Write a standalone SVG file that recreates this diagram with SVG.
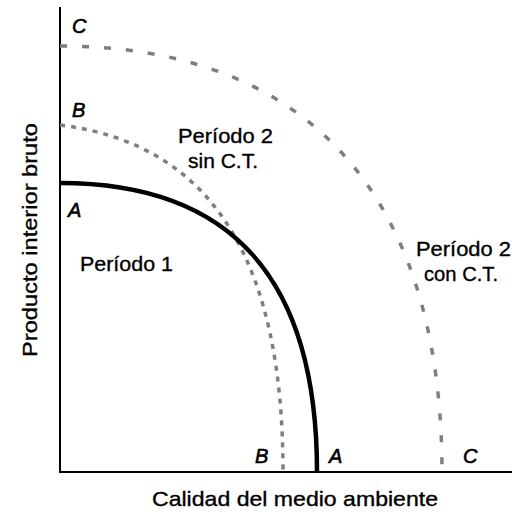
<svg xmlns="http://www.w3.org/2000/svg" width="512" height="514" viewBox="0 0 512 514">
  <style>
    .axis { stroke: #000; stroke-width: 2; fill: none; }
    .curveA { stroke: #000; stroke-width: 4.5; fill: none; }
    .curveB { stroke: #7f7f7f; stroke-width: 3.5; fill: none; stroke-dasharray: 5 6; }
    .curveC { stroke: #7f7f7f; stroke-width: 3.5; fill: none; stroke-dasharray: 7 15; }
    .lbl { font-family: "Liberation Sans", Arial, sans-serif; font-size: 21px; fill: #000; stroke: #000; stroke-width: 0.35; }
    .pt { font-family: "Liberation Sans", Arial, sans-serif; font-size: 20px; font-style: italic; fill: #000; stroke: #000; stroke-width: 0.6; }
  </style>
  <rect width="512" height="514" fill="#fff"/>
  <g id="axes">
    <line class="axis" x1="60" y1="7" x2="60" y2="473"/>
    <line class="axis" x1="59" y1="472" x2="512" y2="472"/>
  </g>
  <g id="connectors">
    <path id="curve-C" class="curveC" d="M60,46 C311,46 442,199 442,472"/>
    <path id="curve-B" class="curveB" d="M60,125 C220,145 283,272 283,472"/>
    <path id="curve-A" class="curveA" d="M60,183 C232,183 317,279 317,472"/>
  </g>
  <g id="axis-labels">
    <text class="lbl" x="152" y="506" textLength="286" lengthAdjust="spacingAndGlyphs">Calidad del medio ambiente</text>
    <text class="lbl" transform="rotate(-90)" x="-357" y="37" textLength="234" lengthAdjust="spacingAndGlyphs">Producto interior bruto</text>
  </g>
  <g id="node-C-top"><text class="pt" x="72" y="33">C</text></g>
  <g id="node-B-top"><text class="pt" x="72" y="117">B</text></g>
  <g id="node-A-top"><text class="pt" x="68" y="217">A</text></g>
  <g id="node-B-bottom"><text class="pt" x="255" y="463">B</text></g>
  <g id="node-A-bottom"><text class="pt" x="329" y="463">A</text></g>
  <g id="node-C-bottom"><text class="pt" x="463" y="463">C</text></g>
  <g id="node-periodo1"><text class="lbl" x="80" y="271" textLength="93" lengthAdjust="spacingAndGlyphs">Período 1</text></g>
  <g id="node-periodo2-sin">
    <text class="lbl" x="178" y="143" textLength="95" lengthAdjust="spacingAndGlyphs">Período 2</text>
    <text class="lbl" x="188" y="168" textLength="70" lengthAdjust="spacingAndGlyphs">sin C.T.</text>
  </g>
  <g id="node-periodo2-con">
    <text class="lbl" x="416" y="256" textLength="95" lengthAdjust="spacingAndGlyphs">Período 2</text>
    <text class="lbl" x="424" y="281" textLength="74" lengthAdjust="spacingAndGlyphs">con C.T.</text>
  </g>
</svg>
